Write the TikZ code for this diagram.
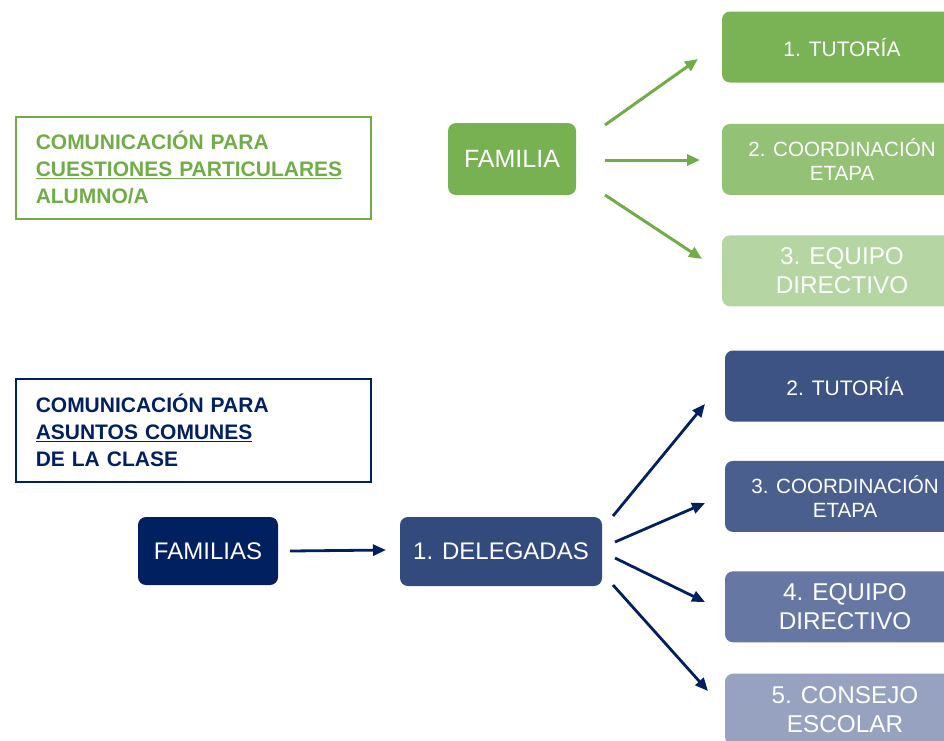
\documentclass[tikz,border=0pt]{standalone}
\usepackage{fontspec}
\setmainfont{Liberation Sans}
\usetikzlibrary{positioning, arrows.meta}
\definecolor{greenline}{HTML}{70AD47}
\definecolor{green1}{HTML}{77B152}
\definecolor{green2}{HTML}{7AB356}
\definecolor{green3}{HTML}{93C175}
\definecolor{green4}{HTML}{B5D6A3}
\definecolor{navy}{HTML}{002060}
\definecolor{blue1}{HTML}{334A7D}
\definecolor{blue2}{HTML}{3D5383}
\definecolor{blue3}{HTML}{4B5F8F}
\definecolor{blue4}{HTML}{6677A3}
\definecolor{blue5}{HTML}{97A2C0}
\tikzset{info box/.style={draw, line width=1.5pt, anchor=north west, minimum width=355pt, minimum height=102pt, text width=315pt, inner xsep=20pt, align=left, font=\fontsize{21}{27}\selectfont\bfseries},
  main box/.style={rounded corners=8pt, text=white, font=\fontsize{24}{28}\selectfont},
  level box/.style={rounded corners=8pt, minimum width=240pt, minimum height=71pt, text=white, align=center, inner sep=2pt},
  small text/.style={font=\fontsize{20.6}{24}\selectfont},
  large text/.style={font=\fontsize{24.3}{29}\selectfont},
  green arrow/.style={-{Triangle[length=13pt,width=11pt]}, line width=3pt, draw=greenline, fill=greenline},
  blue arrow/.style={-{Triangle[length=13pt,width=11pt]}, line width=2.8pt, draw=navy, fill=navy},}

\begin{document}
\begin{tikzpicture}[x=1pt, y=-1pt]
        \useasboundingbox (0,0) rectangle (944,740);
        % Text boxes
        \node[info box, draw=greenline, text=greenline] (particular) at (15,116) {COMUNICACIÓN PARA\\\underline{CUESTIONES PARTICULARES}\\ALUMNO/A\\[-5pt]};
        \node[info box, draw=navy, text=navy, minimum height=103pt] (comun) at (15,378) {COMUNICACIÓN PARA\\\underline{ASUNTOS COMUNES}\\DE LA CLASE\\[-5pt]};
        % Upper group
        \node[main box, fill=green1, minimum width=128pt, minimum height=72pt, font=\fontsize{25}{29}\selectfont] (familia) at (512,159) {FAMILIA};
        \node[level box, fill=green2, font=\fontsize{21}{25}\selectfont] (tutoria) at (842,47) {1. TUTORÍA};
        \node[level box, fill=green3, small text] (coordinacion) [below = 41pt of tutoria] {2. COORDINACIÓN\\ETAPA};
        \node[level box, fill=green4, large text] (equipo) [below = 40pt of coordinacion] {3. EQUIPO\\DIRECTIVO};
        % Lower group
        \node[main box, fill=navy, minimum width=140pt, minimum height=68pt] (familias) at (208,551) {FAMILIAS};
        \node[main box, fill=blue1, minimum width=202pt, minimum height=69pt] (delegadas) at (501,551.5) {1. DELEGADAS};
        \node[level box, fill=blue2, font=\fontsize{21}{25}\selectfont] (tutoria2) at (845,386) {2. TUTORÍA};
        \node[level box, fill=blue3, small text] (coordinacion3) [below = 39pt of tutoria2] {3. COORDINACIÓN\\ETAPA};
        \node[level box, fill=blue4, large text] (equipo4) [below = 39pt of coordinacion3] {4. EQUIPO\\DIRECTIVO};
        \node[level box, fill=blue5, large text] (consejo5) [below = 31pt of equipo4] {5. CONSEJO\\ESCOLAR};
        % Arrow ends
        \coordinate (g1s) at (605,125);  \coordinate (g1e) at (698,59);
        \coordinate (g2s) at (605,160);  \coordinate (g2e) at (700,160);
        \coordinate (g3s) at (605,195);  \coordinate (g3e) at (702,259);
        \coordinate (fs) at (290,551);   \coordinate (fe) at (386,550);
        \coordinate (b1s) at (613,516);  \coordinate (b1e) at (705,404);
        \coordinate (b2s) at (615,542);  \coordinate (b2e) at (705,503);
        \coordinate (b3s) at (615,558);  \coordinate (b3e) at (705,602);
        \coordinate (b4s) at (613,585);  \coordinate (b4e) at (708,691);
        % Paths
        \draw[green arrow] (g1s) -- (g1e);
        \draw[green arrow] (g2s) -- (g2e);
        \draw[green arrow] (g3s) -- (g3e);
        \draw[blue arrow] (fs) -- (fe);
        \draw[blue arrow] (b1s) -- (b1e);
        \draw[blue arrow] (b2s) -- (b2e);
        \draw[blue arrow] (b3s) -- (b3e);
        \draw[blue arrow] (b4s) -- (b4e);
    \end{tikzpicture}
\end{document}
